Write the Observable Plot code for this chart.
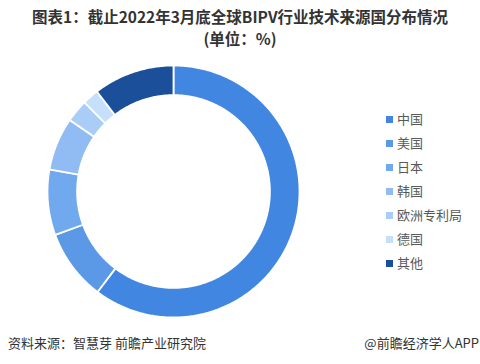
<!DOCTYPE html>
<html><head><meta charset="utf-8">
<script src="https://cdn.jsdelivr.net/npm/d3@7"></script>
<script src="https://cdn.jsdelivr.net/npm/@observablehq/plot@0.6"></script>
<style>
body{margin:0;background:#fff;font-family:"Noto Sans CJK SC","Noto Sans",sans-serif;}
#wrap{position:relative;width:480px;height:364px;overflow:hidden;}
.t{position:absolute;left:0;width:480px;text-align:center;font-weight:bold;font-size:15.5px;line-height:18px;color:#333;}
#t1{top:7px;}
#t2{top:29px;}
#chart{position:absolute;left:0;top:0;}
#legend{position:absolute;left:386px;top:107px;font-size:13px;color:#595959;}
.li{height:24px;line-height:20px;display:flex;align-items:center;}
.sw{width:7px;height:7px;margin-right:4px;}
#src{position:absolute;left:8px;top:333px;font-size:13px;color:#333;}
#app{position:absolute;right:1px;top:333px;font-size:13px;color:#333;}
</style></head>
<body><div id="wrap">
<div id="chart"></div>
<div class="t" id="t1">图表1：截止2022年3月底全球BIPV行业技术来源国分布情况</div>
<div class="t" id="t2">(单位：%)</div>
<div id="legend"></div>
<div id="src">资料来源：智慧芽 前瞻产业研究院</div>
<div id="app">@前瞻经济学人APP</div>
</div>
<script>
const categories = ["中国","美国","日本","韩国","欧洲专利局","德国","其他"];
const values = [60.3, 9.1, 8.4, 6.8, 2.9, 2.1, 10.4];
const colors = ["#4187e1","#5b99e7","#71a9ee","#90bbf3","#aacdf7","#c6dffa","#1b4f99"];

const innerR = 0.765, outerR = 1;
const pie = d3.pie().sort(null).value(d => d.value)(categories.map((c,i)=>({category:c,value:values[i]})));
const pts = [];
pie.forEach(a => {
  const n = Math.max(4, Math.ceil((a.endAngle - a.startAngle) / 0.01));
  const poly = [];
  for (let k = 0; k <= n; k++) { const t = a.startAngle + (a.endAngle - a.startAngle) * k / n; poly.push([outerR*Math.sin(t), outerR*Math.cos(t)]); }
  for (let k = n; k >= 0; k--) { const t = a.startAngle + (a.endAngle - a.startAngle) * k / n; poly.push([innerR*Math.sin(t), innerR*Math.cos(t)]); }
  poly.forEach(p => pts.push({category: a.data.category, x: p[0], y: p[1]}));
});

const cx = 173, cy = 191, R = 126;
const plot = Plot.plot({
  width: 480, height: 364,
  x: {domain: [-1, 1], range: [cx - R, cx + R], axis: null},
  y: {domain: [-1, 1], range: [cy + R, cy - R], axis: null},
  color: {domain: categories, range: colors},
  marks: [
    Plot.line(pts, {x: "x", y: "y", z: "category", fill: "category", stroke: "#fff", strokeWidth: 1.8, curve: "linear-closed"})
  ]
});
document.getElementById("chart").appendChild(plot);

const lg = document.getElementById("legend");
categories.forEach((c,i) => {
  const d = document.createElement("div"); d.className = "li";
  d.innerHTML = `<span class="sw" style="background:${colors[i]}"></span><span>${c}</span>`;
  lg.appendChild(d);
});
</script>
</body></html>
